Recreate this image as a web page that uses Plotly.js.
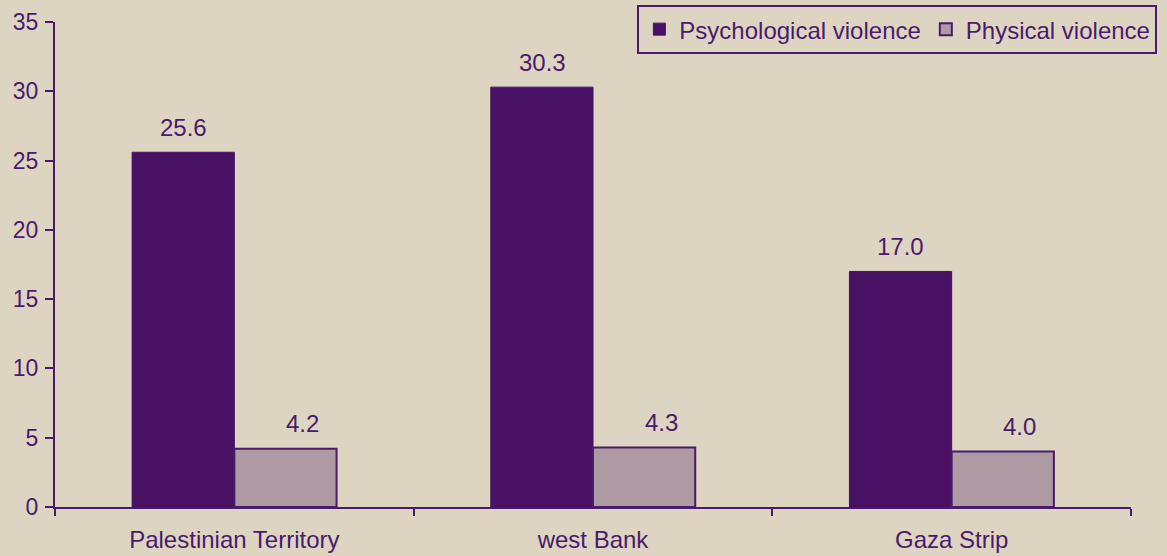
<!DOCTYPE html>
<html><head><meta charset="utf-8">
<script src="https://cdn.plot.ly/plotly-3.0.1.min.js"></script>
<style>html,body{margin:0;padding:0;background:#DDD5C2;}#chart{width:1167px;height:556px;}</style>
</head><body><div id="chart"></div>
<script>
const categories = ["Palestinian Territory", "west Bank", "Gaza Strip"];
const psychological = [25.6, 30.3, 17.0];
const physical = [4.2, 4.3, 4.0];
const seriesNames = ["Psychological violence", "Physical violence"];
const yTicks = [0, 5, 10, 15, 20, 25, 30, 35];

const purple = "#4A1A6B";
const fam = "Liberation Sans, Arial, sans-serif";
const font = {family: fam, size: 24, color: purple};
const tickFontY = {family: fam, size: 23, color: purple};

const traces = [
  {type: "bar", name: seriesNames[0], x: categories, y: psychological,
   marker: {color: "#481163", line: {color: "#481163", width: 1}}, hoverinfo: "none"},
  {type: "bar", name: seriesNames[1], x: categories, y: physical,
   marker: {color: "#AE9AA3", line: {color: purple, width: 2}}, hoverinfo: "none"}
];

const annotations = [];
categories.forEach((c, i) => {
  annotations.push({x: c, y: psychological[i], xref: "x", yref: "y", text: psychological[i].toFixed(1),
    showarrow: false, xshift: -51, yshift: 25, font: font});
  annotations.push({x: c, y: physical[i], xref: "x", yref: "y", text: physical[i].toFixed(1),
    showarrow: false, xshift: 68, yshift: 25, font: font});
});

const layout = {
  width: 1167, height: 556,
  margin: {l: 55, r: 36, t: 22, b: 49, autoexpand: false},
  paper_bgcolor: "#DDD5C2", plot_bgcolor: "#DDD5C2",
  font: font,
  barmode: "group", bargap: 0.43, bargroupgap: 0,
  showlegend: true,
  legend: {orientation: "h", x: 1.0245, xanchor: "right", y: 1.035, yanchor: "top",
    bgcolor: "rgba(0,0,0,0)", bordercolor: purple, borderwidth: 2, font: font,
    traceorder: "normal", itemwidth: 30},
  xaxis: {type: "category", tickson: "boundaries", ticks: "outside", ticklen: 7, tickwidth: 2,
    tickcolor: purple, showline: true, linecolor: purple, linewidth: 2, showgrid: false,
    ticklabelstandoff: 10, tickfont: font, zeroline: false, fixedrange: true},
  yaxis: {range: [0, 35], tickvals: yTicks, ticks: "outside", ticklen: 8, tickwidth: 2,
    tickcolor: purple, showline: true, linecolor: purple, linewidth: 2, showgrid: false,
    zeroline: false, ticklabelstandoff: 2, tickfont: tickFontY, fixedrange: true},
  annotations: annotations
};

Plotly.newPlot("chart", traces, layout, {displayModeBar: false, staticPlot: true});
</script></body></html>
